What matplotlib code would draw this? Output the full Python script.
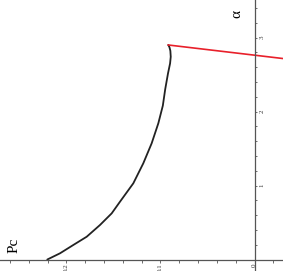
import matplotlib
matplotlib.use("Agg")
from matplotlib import pyplot as plt

# black branch (Pc, alpha)
pc_black = [0.2204, 0.2069, 0.1928, 0.1785, 0.1644, 0.1519, 0.1431, 0.1289,
            0.1183, 0.1094, 0.1023, 0.0975, 0.0950, 0.0920, 0.0898, 0.0891,
            0.0895, 0.0905, 0.0917]
al_black = [0.0, 0.084, 0.196, 0.308, 0.466, 0.624, 0.781, 1.030,
            1.300, 1.570, 1.841, 2.080, 2.300, 2.516, 2.650, 2.740,
            2.820, 2.870, 2.899]

# red branch
pc_red = [0.0917, -0.0303]
al_red = [2.899, 2.716]

xticks = [0.2, 0.1, 0.0]
xticklabels = ["0.2", "0.1", "0"]
yticks = [1, 2, 3]
yticklabels = ["1", "2", "3"]

plt.rcParams["font.family"] = ["Liberation Serif", "DejaVu Serif"]

fig = plt.figure(figsize=(2.83, 2.71), dpi=100)
ax = fig.add_axes([0, 0, 1, 1])

ax.plot(pc_black, al_black, color="#222222", lw=1.3,
        solid_joinstyle="round", solid_capstyle="round")
ax.plot(pc_red, al_red, color="#e8202a", lw=1.2)

ax.set_xlim(0.2707, -0.0303)
ax.set_ylim(-0.155, 3.507)

for s in ["top", "left"]:
    ax.spines[s].set_visible(False)
ax.spines["bottom"].set_position(("data", 0))
ax.spines["right"].set_position(("data", 0))
for s in ["bottom", "right"]:
    ax.spines[s].set_color("#555555")
    ax.spines[s].set_linewidth(0.9)

ax.yaxis.tick_right()
ax.set_xticks(xticks)
ax.set_xticklabels(xticklabels, rotation=90)
ax.set_xticks([i * 0.02 - 0.02 for i in range(15)], minor=True)
ax.set_yticks(yticks)
ax.set_yticklabels(yticklabels, rotation=90, va="center")
ax.set_yticks([i * 0.2 for i in range(1, 18)], minor=True)
ax.tick_params(which="both", colors="#555555", labelcolor="#333333",
               labelsize=5, width=0.6)
ax.tick_params(axis="x", which="both", length=2, pad=1)
ax.tick_params(axis="y", which="both", length=1.5, pad=2)

ax.text(0.049, 0.096, "Pc", transform=ax.transAxes, rotation=90,
        fontsize=11, ha="center", va="center")
ax.text(0.837, 0.948, "\u03b1", transform=ax.transAxes, rotation=90,
        fontsize=11, ha="center", va="center")

fig.savefig("out.png", dpi=100)
